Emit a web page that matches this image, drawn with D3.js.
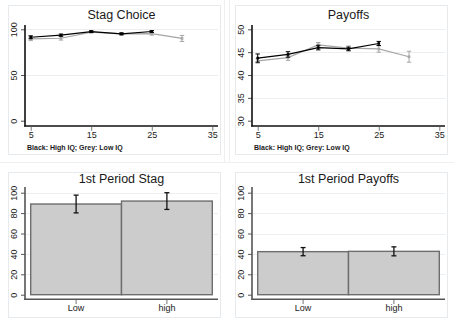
<!DOCTYPE html>
<html>
<head>
<meta charset="utf-8">
<script src="https://cdn.jsdelivr.net/npm/d3@7"></script>
<style>
  html, body { margin: 0; padding: 0; background: #fff; }
  svg { display: block; font-family: "Liberation Sans", Arial, sans-serif; }
</style>
</head>
<body>
<svg id="chart" width="454" height="325"></svg>
<script>
// Period markers on the x axis
const periods = [5, 10, 15, 20, 25, 30];

// Stag choice (%) by period
const stagHigh = [91.3, 93.6, 97.5, 95.0, 97.6];
const stagHighErr = [1.6, 1.2, 0.9, 1.0, 1.0];
const stagLow = [89.6, 90.2, 97.0, 95.0, 95.2, 90.0];
const stagLowErr = [2.0, 2.0, 1.0, 1.2, 1.6, 3.3];

// Payoffs by period
const payHigh = [43.7, 44.5, 46.0, 45.7, 46.9];
const payHighErr = [0.9, 0.6, 0.5, 0.4, 0.45];
const payLow = [43.1, 43.8, 46.6, 45.9, 45.7, 44.0];
const payLowErr = [0.5, 0.6, 0.5, 0.45, 0.7, 1.2];

// First-period comparisons by IQ group
const groups = ["Low", "high"];
const firstStag = [88.9, 91.8];
const firstStagErr = [8.7, 8.2];
const firstPay = [42.2, 42.5];
const firstPayErr = [4.0, 4.4];

// Axis ticks
const xTicks = [5, 15, 25, 35];
const stagTicks = [0, 50, 100];
const payTicks = [30, 35, 40, 45, 50];
const pctTicks = [0, 20, 40, 60, 80, 100];

const note = "Black: High IQ; Grey: Low IQ";

const svg = d3.select("#chart");
const frameCol = "#e6eaec";
const gridCol = "#eceeef";
const textCol = "#1a1a1a";

// faint cell separators of the combined graph
svg.append("line").attr("x1", 224.5).attr("x2", 224.5).attr("y1", 0).attr("y2", 162).attr("stroke", "#eef0f1");
svg.append("line").attr("x1", 229.5).attr("x2", 229.5).attr("y1", 0).attr("y2", 162).attr("stroke", "#eef0f1");
svg.append("line").attr("x1", 0).attr("x2", 454).attr("y1", 162.5).attr("y2", 162.5).attr("stroke", "#eef0f1");

function frame(g, x0, y0, x1, y1) {
  g.append("rect").attr("x", x0 + 0.5).attr("y", y0 + 0.5)
    .attr("width", x1 - x0).attr("height", y1 - y0)
    .attr("fill", "none").attr("stroke", frameCol).attr("stroke-width", 1);
}

function yAxisPart(g, y, ticks, top, bottom, axisCol) {
  // gridlines (not at the lowest tick)
  g.selectAll(".grid").data(ticks.slice(1)).join("line")
    .attr("x1", 26).attr("x2", 218)
    .attr("y1", d => Math.round(y(d)) + 0.5).attr("y2", d => Math.round(y(d)) + 0.5)
    .attr("stroke", gridCol).attr("stroke-width", 1);
  const ax = g.append("g").attr("transform", "translate(25,0)")
    .call(d3.axisLeft(y).tickValues(ticks).tickSize(4).tickPadding(3).tickSizeOuter(0));
  ax.select(".domain").remove();
  ax.selectAll(".tick line").attr("stroke", "#555");
  ax.selectAll(".tick text")
    .attr("transform", "rotate(-90)")
    .attr("x", 0).attr("y", -8)
    .attr("dy", "0")
    .attr("text-anchor", "middle")
    .attr("font-size", 9).attr("fill", textCol)
    .attr("font-family", "Liberation Sans, Arial, sans-serif");
  g.append("line").attr("x1", 25).attr("x2", 25).attr("y1", top).attr("y2", bottom)
    .attr("stroke", axisCol).attr("stroke-width", 1.6);
}

function xAxisLine(g, yPos, axisCol) {
  g.append("line").attr("x1", 24.2).attr("x2", 218).attr("y1", yPos).attr("y2", yPos)
    .attr("stroke", axisCol).attr("stroke-width", 1.6);
}

function title(g, txt, yBase) {
  g.append("text").attr("x", 121.5).attr("y", yBase).attr("text-anchor", "middle")
    .attr("font-size", 12.5).attr("fill", textCol).text(txt);
}

function linePanel(dx, ttl, yDomain, ticks, high, highErr, low, lowErr) {
  const g = svg.append("g").attr("transform", `translate(${dx},0)`);
  frame(g, 8, 5, 220, 154);
  const x = d3.scaleLinear().domain([5, 35]).range([30.7, 212.3]);
  const y = d3.scaleLinear().domain(yDomain).range([120.7, 29.3]);
  title(g, ttl, 18.5);
  yAxisPart(g, y, ticks, 25, 126.5, "#111");
  xAxisLine(g, 126, "#111");
  const xa = g.append("g").attr("transform", "translate(0,126.8)")
    .call(d3.axisBottom(x).tickValues(xTicks).tickSize(4).tickPadding(1).tickSizeOuter(0));
  xa.select(".domain").remove();
  xa.selectAll(".tick line").attr("stroke", "#777");
  xa.selectAll(".tick text").attr("font-size", 9).attr("fill", textCol)
    .attr("font-family", "Liberation Sans, Arial, sans-serif");
  g.append("text").attr("x", 27).attr("y", 149.5).attr("font-size", 7)
    .attr("font-weight", "bold").attr("fill", textCol).text(note);

  function series(vals, errs, col) {
    const pts = vals.map((v, i) => ({ p: periods[i], v, e: errs[i] }));
    const line = d3.line().x(d => x(d.p)).y(d => y(d.v));
    g.append("path").datum(pts).attr("d", line)
      .attr("fill", "none").attr("stroke", col).attr("stroke-width", 1.2);
    const eb = g.append("g").attr("stroke", col).attr("stroke-width", 1);
    pts.forEach(d => {
      const cx = x(d.p), y0 = y(d.v - d.e), y1 = y(d.v + d.e);
      eb.append("line").attr("x1", cx).attr("x2", cx).attr("y1", y0).attr("y2", y1);
      eb.append("line").attr("x1", cx - 2.2).attr("x2", cx + 2.2).attr("y1", y0).attr("y2", y0);
      eb.append("line").attr("x1", cx - 2.2).attr("x2", cx + 2.2).attr("y1", y1).attr("y2", y1);
    });
    g.append("g").selectAll("rect").data(pts).join("rect")
      .attr("x", d => x(d.p) - 1.3).attr("y", d => y(d.v) - 1.3)
      .attr("width", 2.6).attr("height", 2.6).attr("fill", col);
  }
  series(low, lowErr, "#a6a6a6");
  series(high, highErr, "#000");
}

function barPanel(dx, ttl, vals, errs) {
  const g = svg.append("g").attr("transform", `translate(${dx},0)`);
  frame(g, 8, 172, 220, 317);
  const x = d3.scaleBand().domain(groups).range([30.7, 212.3]).padding(0);
  const y = d3.scaleLinear().domain([0, 100]).range([294.7, 192.7]);
  title(g, ttl, 182.5);
  yAxisPart(g, y, pctTicks, 187, 300, "#555");
  g.selectAll(".bar").data(groups).join("rect")
    .attr("x", d => x(d)).attr("y", (d, i) => y(vals[i]))
    .attr("width", x.bandwidth()).attr("height", (d, i) => y(0) - y(vals[i]))
    .attr("fill", "#cccccc").attr("stroke", "#6e6e6e").attr("stroke-width", 1.4);
  xAxisLine(g, 299.3, "#555");
  const xa = g.append("g").attr("transform", "translate(0,300)")
    .call(d3.axisBottom(x).tickSize(4).tickPadding(1).tickSizeOuter(0));
  xa.select(".domain").remove();
  xa.selectAll(".tick line").attr("stroke", "#777");
  xa.selectAll(".tick text").attr("font-size", 9).attr("fill", textCol)
    .attr("font-family", "Liberation Sans, Arial, sans-serif");
  const eb = g.append("g").attr("stroke", "#111").attr("stroke-width", 1.3);
  groups.forEach((k, i) => {
    const cx = x(k) + x.bandwidth() / 2;
    const y0 = y(vals[i] - errs[i]), y1 = y(vals[i] + errs[i]);
    eb.append("line").attr("x1", cx).attr("x2", cx).attr("y1", y0).attr("y2", y1);
    eb.append("line").attr("x1", cx - 2.5).attr("x2", cx + 2.5).attr("y1", y0).attr("y2", y0);
    eb.append("line").attr("x1", cx - 2.5).attr("x2", cx + 2.5).attr("y1", y1).attr("y2", y1);
  });
}

linePanel(0, "Stag Choice", [0, 100], stagTicks, stagHigh, stagHighErr, stagLow, stagLowErr);
linePanel(227, "Payoffs", [30, 50], payTicks, payHigh, payHighErr, payLow, payLowErr);
barPanel(0, "1st Period Stag", firstStag, firstStagErr);
barPanel(227, "1st Period Payoffs", firstPay, firstPayErr);
</script>
</body>
</html>
